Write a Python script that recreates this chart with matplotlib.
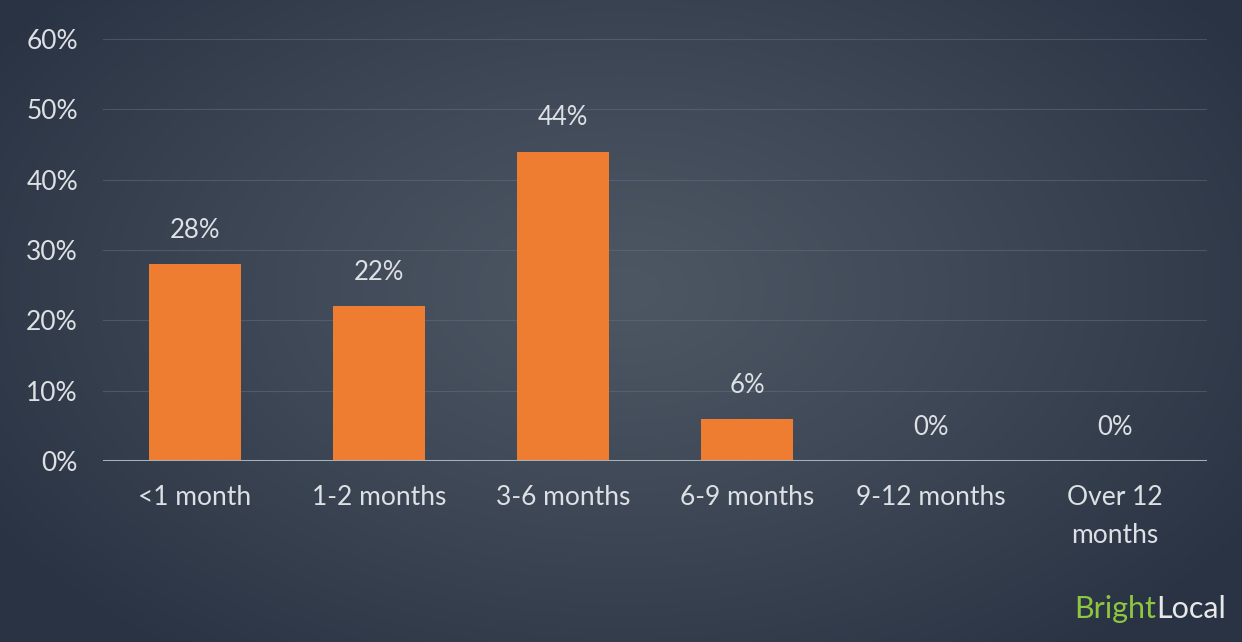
import numpy as np
import matplotlib
matplotlib.use("Agg")
import matplotlib.pyplot as plt

categories = ["<1 month", "1-2 months", "3-6 months", "6-9 months", "9-12 months", "Over 12\nmonths"]
values = [28, 22, 44, 6, 0, 0]
yticks = [0, 10, 20, 30, 40, 50, 60]

bar_col = "#ee7d31"
txt_col = "#dde0e4"

plt.rcParams["font.family"] = ["Lato", "DejaVu Sans"]

fig = plt.figure(figsize=(12.42, 6.42), dpi=100)

# radial gradient background
bg = fig.add_axes([0, 0, 1, 1], zorder=0)
h, w = 321, 621
yy, xx = np.mgrid[0:h, 0:w]
d = np.sqrt(((xx - 0.5 * w) / (0.6 * w)) ** 2 + ((yy - 0.45 * h) / (0.72 * h)) ** 2)
d = np.clip(d, 0, 1) ** 1.2
inner = np.array([0x4d, 0x56, 0x63]) / 255
outer = np.array([0x29, 0x33, 0x43]) / 255
img = inner[None, None, :] * (1 - d[..., None]) + outer[None, None, :] * d[..., None]
bg.imshow(img, aspect="auto", extent=[0, 1, 0, 1], interpolation="bilinear")
bg.axis("off")

ax = fig.add_axes([103 / 1242, 1 - 461 / 642, 1104 / 1242, 422 / 642], zorder=1)
ax.patch.set_alpha(0)
x = np.arange(len(categories))
ax.bar(x, values, width=0.5, color=bar_col, zorder=3)
for xi, v in zip(x, values):
    ax.text(xi, v + 3, f"{v}%", ha="center", va="bottom", color=txt_col, fontsize=18.5)

ax.set_xlim(-0.5, len(categories) - 0.5)
ax.set_ylim(0, 60)
ax.set_yticks(yticks)
ax.set_yticklabels([f"{t}%" for t in yticks])
ax.set_xticks(x)
ax.set_xticklabels(categories, linespacing=1.65)
ax.tick_params(axis="both", length=0, colors=txt_col, labelsize=19)
ax.tick_params(axis="y", pad=18)
ax.tick_params(axis="x", pad=17)
for t in yticks[1:]:
    ax.axhline(t, color="#65707e", lw=0.8, alpha=0.5, zorder=1)
for s in ax.spines.values():
    s.set_visible(False)
ax.axhline(0, color="#a9b0b8", lw=2.2, zorder=4)

# logo, right-anchored
t2 = fig.text(1226 / 1242, 1 - 609 / 642, "Local", color="#e6e8ea", fontsize=22,
              va="center", ha="right")
fig.canvas.draw()
bb = t2.get_window_extent()
fig.text(bb.x0 / fig.bbox.width, 1 - 609 / 642, "Bright", color="#8dc63f", fontsize=22,
         va="center", ha="right")

fig.savefig("out.png", dpi=100)
